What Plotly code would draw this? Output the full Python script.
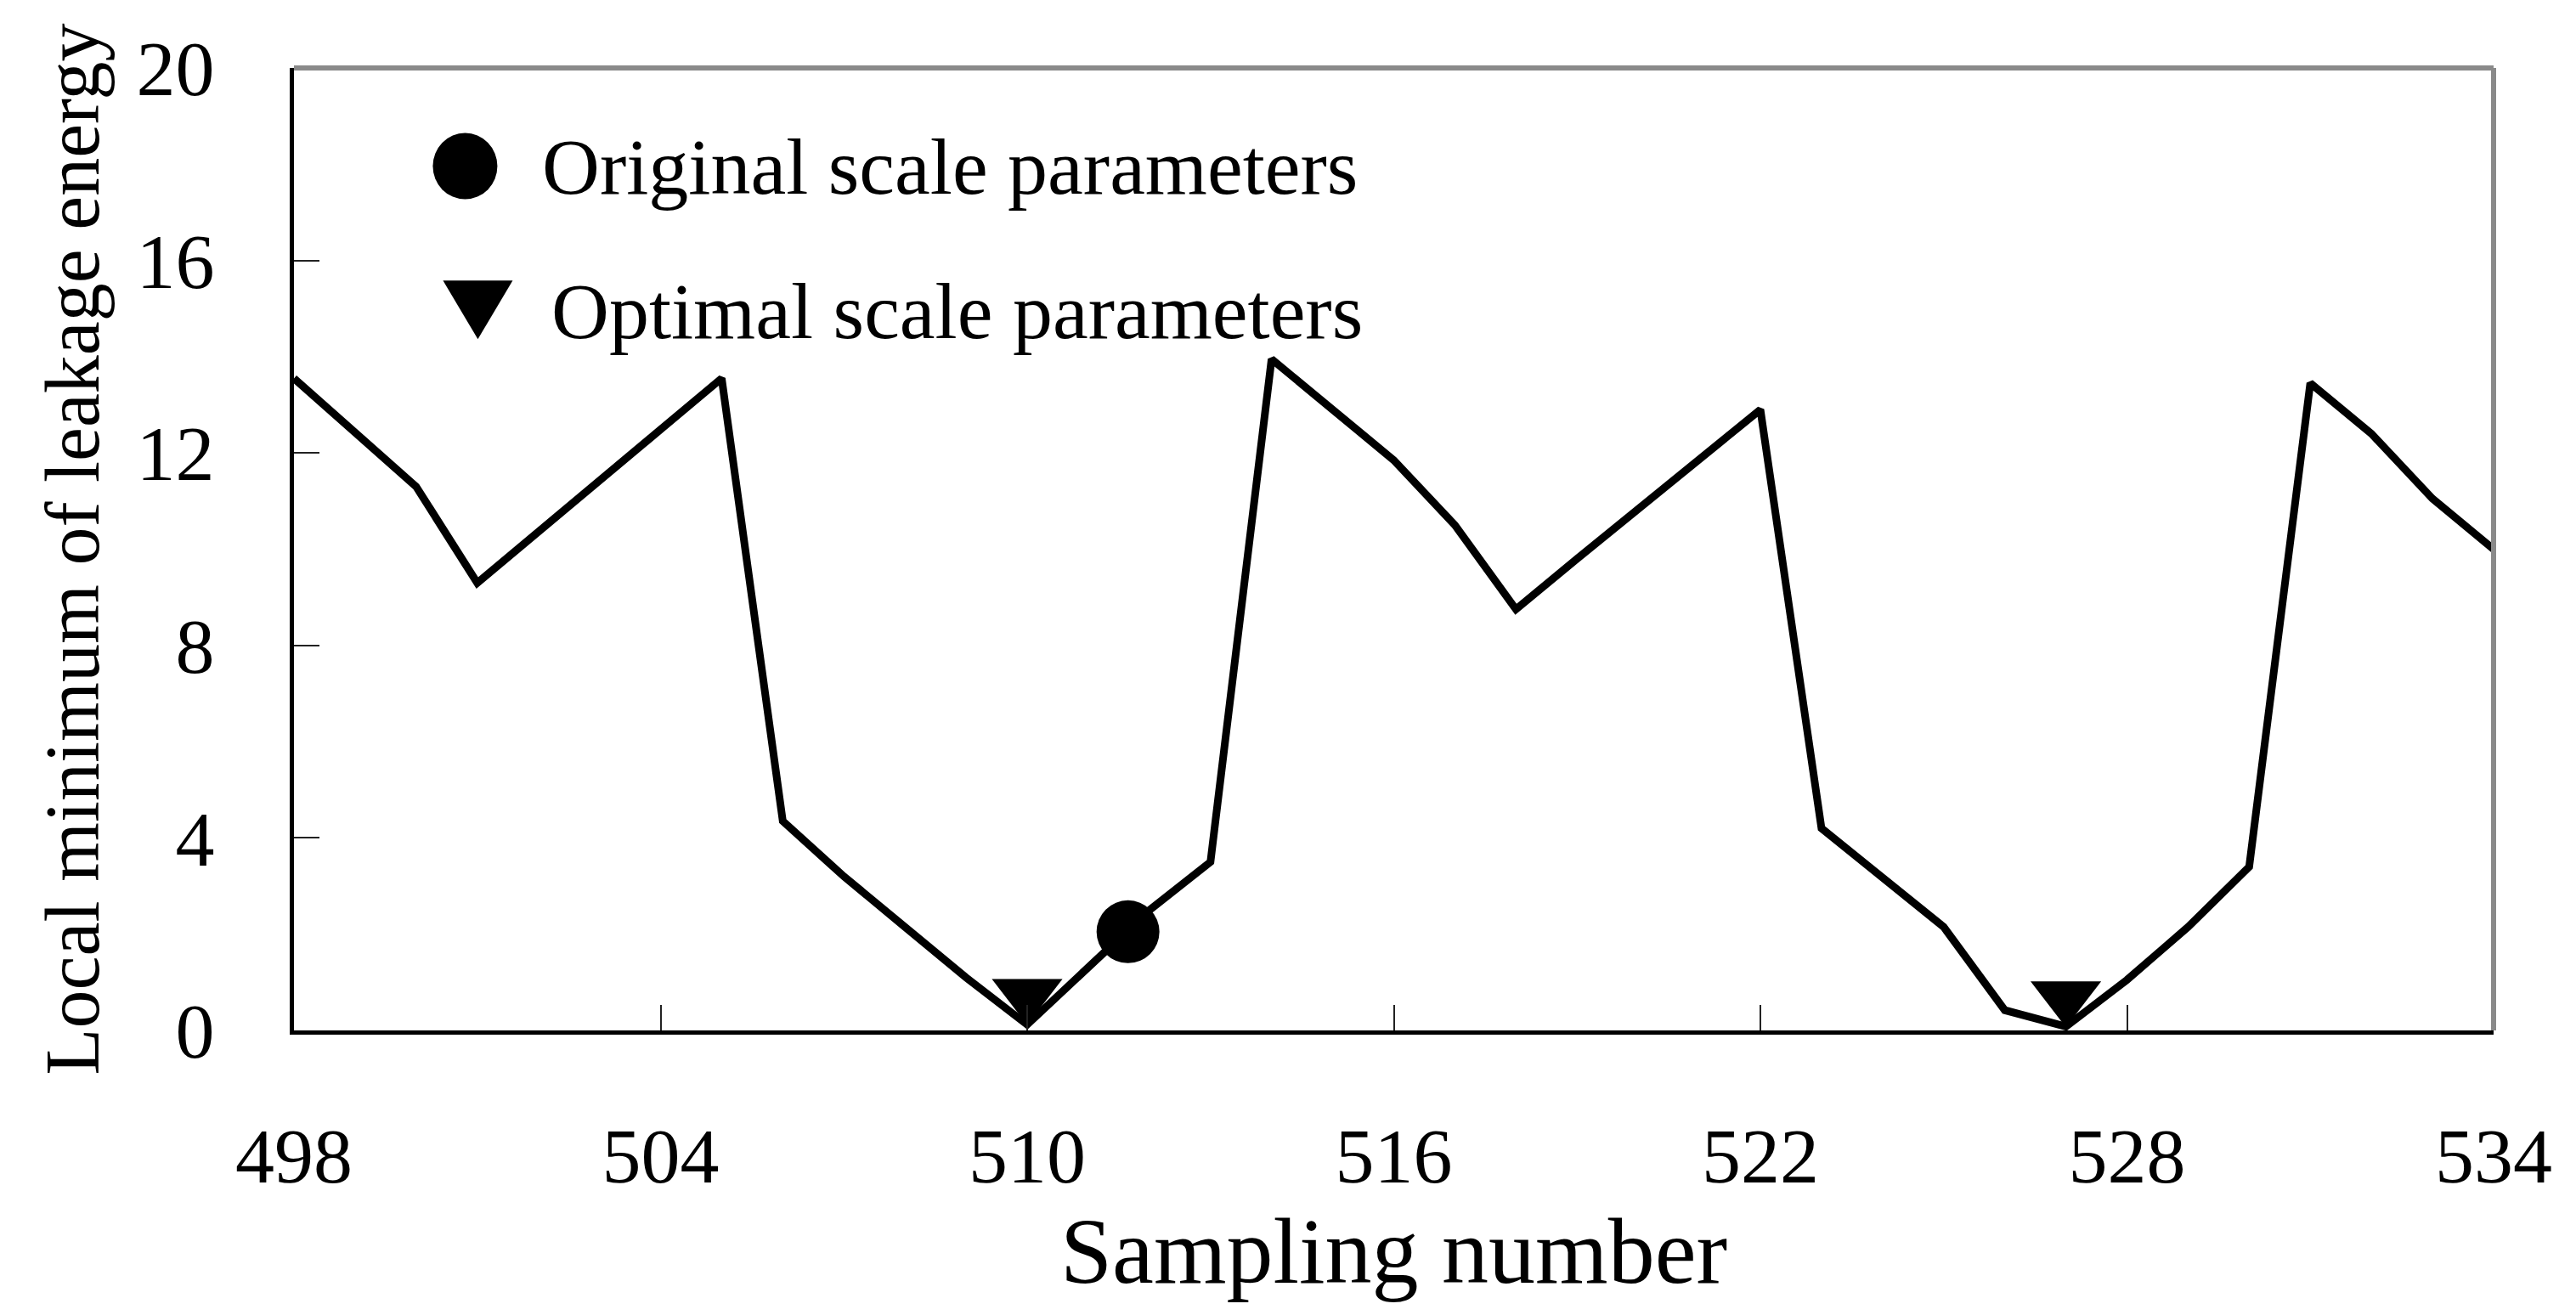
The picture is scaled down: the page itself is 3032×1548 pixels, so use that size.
import plotly.graph_objects as go

# datos
sampling = list(range(498, 535))
energy = [13.55, 12.4, 11.3, 9.3, 10.35, 11.45, 12.45, 13.55, 4.35, 3.2, 2.15, 1.1, 0.12,
          1.3, 2.5, 3.5, 13.95, 12.9, 11.85, 10.5, 8.75, 9.8, 10.85, 11.9, 12.9, 4.2,
          3.2, 2.15, 0.42, 0.08, 1.05, 2.15, 3.4, 13.45, 12.4, 11.05, 10.0]

original_x = [511.65]
original_y = [2.05]
optimal_x = [510, 527]
optimal_y = [0.75, 0.7]

xticks = [498, 504, 510, 516, 522, 528, 534]
yticks = [0, 4, 8, 12, 16, 20]
legend_names = ['Original scale parameters', 'Optimal scale parameters']

FONT = 'Liberation Serif'

fig = go.Figure()

# curva principal
fig.add_trace(go.Scatter(
    x=sampling, y=energy, mode='lines',
    line=dict(color='black', width=9),
    showlegend=False
))

# parametros originales
fig.add_trace(go.Scatter(
    x=original_x, y=original_y, mode='markers', name=legend_names[0],
    marker=dict(symbol='circle', size=74, color='black'),
    showlegend=False
))

# parametros optimos
fig.add_trace(go.Scatter(
    x=optimal_x, y=optimal_y, mode='markers', name=legend_names[1],
    marker=dict(symbol='triangle-down', size=72, color='black'),
    showlegend=False
))

# leyenda dibujada a mano (simbolos grandes como en el original)
shapes = [
    dict(type='circle', xref='paper', yref='paper', xsizemode='pixel', ysizemode='pixel',
         xanchor=0.0778, yanchor=0.898, x0=-38, x1=38, y0=-39, y1=39,
         fillcolor='black', line=dict(width=0)),
    dict(type='path', xref='paper', yref='paper', xsizemode='pixel', ysizemode='pixel',
         xanchor=0.0836, yanchor=0.750, path='M -41 33 L 41 33 L 0 -36 Z',
         fillcolor='black', line=dict(width=0)),
    # marco gris arriba y a la derecha
    dict(type='line', xref='paper', yref='paper', x0=0, x1=1, y0=1, y1=1,
         line=dict(color='#8a8a8a', width=6)),
    dict(type='line', xref='paper', yref='paper', x0=1, x1=1, y0=0, y1=1,
         line=dict(color='#8a8a8a', width=6)),
]

annotations = [
    dict(text=legend_names[0], xref='paper', yref='paper', x=0.1121, y=0.898,
         xanchor='left', yanchor='middle', showarrow=False,
         font=dict(family=FONT, size=94, color='black')),
    dict(text=legend_names[1], xref='paper', yref='paper', x=0.1163, y=0.748,
         xanchor='left', yanchor='middle', showarrow=False,
         font=dict(family=FONT, size=94, color='black')),
]

fig.update_layout(
    width=3032, height=1548,
    margin=dict(l=338, r=105, t=72, b=343),
    paper_bgcolor='white', plot_bgcolor='white',
    font=dict(family=FONT, color='black'),
    shapes=shapes,
    annotations=annotations,
    xaxis=dict(
        range=[498, 534], tickvals=xticks, ticks='inside', ticklen=30, tickwidth=2,
        tickcolor='#222222', showline=True, linecolor='black', linewidth=5,
        showgrid=False, zeroline=False, ticklabelstandoff=64,
        tickfont=dict(family=FONT, size=92),
        title=dict(text='Sampling number', font=dict(family=FONT, size=110), standoff=0),
    ),
    yaxis=dict(
        range=[0, 20], tickvals=yticks, ticks='inside', ticklen=30, tickwidth=2,
        tickcolor='#222222', showline=True, linecolor='black', linewidth=5,
        showgrid=False, zeroline=False, ticklabelstandoff=70,
        tickfont=dict(family=FONT, size=92),
        title=dict(text='Local minimum of leakage energy', font=dict(family=FONT, size=90),
                   standoff=16),
    ),
)

fig.write_html("out.html")
